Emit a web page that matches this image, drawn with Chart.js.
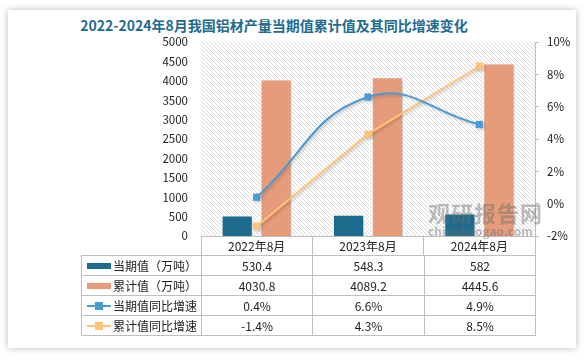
<!DOCTYPE html>
<html><head><meta charset="utf-8">
<script src="https://cdn.jsdelivr.net/npm/chart.js@4.4.1/dist/chart.umd.min.js"></script>
<style>
html,body{margin:0;padding:0;background:#fff;}
#wrap{position:relative;width:586px;height:360px;overflow:hidden;font-family:"Noto Sans CJK SC","Noto Sans",sans-serif;}
#card{position:absolute;left:8px;top:10px;width:568px;height:338px;background:#fff;box-shadow:0 0 7px rgba(0,0,0,0.28);}
#title{position:absolute;left:0;top:15px;width:548px;text-align:center;font-size:14px;font-weight:700;color:#236B8E;line-height:20px;white-space:nowrap;}
canvas{position:absolute;left:0;top:0;}
.cell{position:absolute;box-sizing:border-box;border:1px solid #BFBFBF;font-size:12px;color:#222;text-align:center;line-height:19px;white-space:nowrap;}
.lg{text-align:left;padding-left:31px;}
#wm{position:absolute;left:428px;top:199px;color:rgba(110,110,110,0.45);font-weight:700;font-size:22px;line-height:26px;letter-spacing:1px;white-space:nowrap;pointer-events:none;}
#wm2{position:absolute;left:428px;top:224px;color:rgba(110,110,110,0.45);font-weight:700;font-size:12px;line-height:14px;white-space:nowrap;pointer-events:none;}
</style></head>
<body>
<div id="wrap">
  <div id="card"></div>
  <div id="title">2022-2024年8月我国铝材产量当期值累计值及其同比增速变化</div>
  <canvas id="c" width="586" height="360"></canvas>
  <div id="tbl"></div>
  <div id="wm">观研报告网</div>
  <div id="wm2">chinabaogao.com</div>
</div>
<script>
const categories = ['2022年8月', '2023年8月', '2024年8月'];
const currentValues = [530.4, 548.3, 582];
const cumulativeValues = [4030.8, 4089.2, 4445.6];
const currentYoY = [0.4, 6.6, 4.9];
const cumulativeYoY = [-1.4, 4.3, 8.5];
const seriesNames = ['当期值（万吨）', '累计值（万吨）', '当期值同比增速', '累计值同比增速'];
const leftTicks = [0, 500, 1000, 1500, 2000, 2500, 3000, 3500, 4000, 4500, 5000];
const rightTicks = [-2, 0, 2, 4, 6, 8, 10];

const C_DARK = '#1F6B8D', C_SALMON = '#E69B7B', C_BLUE = '#4A9AD4', C_ORANGE = '#FFC47A';
const FONT = '"Noto Sans CJK SC","Noto Sans",sans-serif';

const hatch = (() => {
  const p = document.createElement('canvas'); p.width = 4; p.height = 4;
  const g = p.getContext('2d');
  g.fillStyle = '#fff'; g.fillRect(0,0,4,4);
  g.strokeStyle = '#DADADA'; g.lineWidth = 1;
  g.beginPath(); g.moveTo(-1,-1); g.lineTo(5,5); g.moveTo(-1,3); g.lineTo(1,5); g.moveTo(3,-1); g.lineTo(5,1); g.stroke();
  return p;
})();

const bgPlugin = {
  id: 'bg',
  beforeDatasetsDraw(chart) {
    const {ctx, chartArea: a} = chart;
    ctx.save();
    ctx.fillStyle = ctx.createPattern(hatch, 'repeat');
    ctx.fillRect(a.left, a.top, a.right - a.left, a.bottom - a.top);
    ctx.restore();
  },
  beforeDatasetDraw(chart) {
    const ctx = chart.ctx;
    ctx.save();
    ctx.shadowColor = 'rgba(0,0,0,0.22)';
    ctx.shadowBlur = 3;
    ctx.shadowOffsetX = 1.5;
    ctx.shadowOffsetY = 1.5;
  },
  afterDatasetDraw(chart) { chart.ctx.restore(); }
};

const chart = new Chart(document.getElementById('c'), {
  type: 'bar',
  data: {
    labels: categories,
    datasets: [
      {type:'line', label: seriesNames[2], data: currentYoY, yAxisID:'y1', borderColor:C_BLUE, backgroundColor:C_BLUE, borderWidth:2, tension:0.45, pointStyle:'rect', pointRadius:5, pointBorderWidth:0, order:1},
      {type:'line', label: seriesNames[3], data: cumulativeYoY, yAxisID:'y1', borderColor:C_ORANGE, backgroundColor:C_ORANGE, borderWidth:2, tension:0, pointStyle:'rect', pointRadius:5, pointBorderWidth:0, order:2},
      {label: seriesNames[0], data: currentValues, yAxisID:'y', backgroundColor:C_DARK, borderColor:'#fff', borderWidth:1, categoryPercentage:0.7, barPercentage:0.8, order:3},
      {label: seriesNames[1], data: cumulativeValues, yAxisID:'y', backgroundColor:C_SALMON, borderColor:'#fff', borderWidth:1, categoryPercentage:0.7, barPercentage:0.8, order:4}
    ]
  },
  options: {
    responsive: false,
    devicePixelRatio: 1,
    animation: false,
    layout: {padding: {top: 42, left: 0, right: 0, bottom: 0}},
    plugins: {legend: {display: false}, tooltip: {enabled: false}},
    scales: {
      x: {
        offset: true,
        grid: {display: true, drawOnChartArea: false, drawTicks: true, tickLength: 19, color: '#BFBFBF', offset: true},
        border: {display: true, color: '#BFBFBF'},
        ticks: {padding: -16, color: '#222', font: {family: FONT, size: 12}, maxRotation: 0},
        afterFit(s) { s.height = 124; }
      },
      y: {
        position: 'left', min: 0, max: 5000,
        afterBuildTicks(s) { s.ticks = leftTicks.map(v => ({value: v})); },
        grid: {display: false, drawTicks: false},
        border: {display: false},
        ticks: {padding: 13, color: '#222', font: {family: FONT, size: 11.5}, callback: v => String(v)},
        afterFit(s) { s.width = 201; }
      },
      y1: {
        position: 'right', min: -2, max: 10,
        afterBuildTicks(s) { s.ticks = rightTicks.map(v => ({value: v})); },
        grid: {display: true, drawOnChartArea: false, drawTicks: true, tickLength: 4, color: '#BFBFBF'},
        border: {display: true, color: '#BFBFBF'},
        ticks: {padding: 8, color: '#222', font: {family: FONT, size: 11.5}, callback: v => v + '%'},
        afterFit(s) { s.width = 51; }
      }
    }
  },
  plugins: [bgPlugin]
});

// data table body
(function buildTable() {
  const xs = chart.scales.x;
  const n = categories.length;
  const cw = (xs.right - xs.left) / n;
  const bounds = [81];
  for (let i = 0; i <= n; i++) bounds.push(Math.round(xs.left + i * cw));
  const top0 = Math.round(xs.top) + 19, rh = 20;
  const rows = [
    {name: seriesNames[0], vals: currentValues.map(v => String(v)), sw: 'bar', color: C_DARK},
    {name: seriesNames[1], vals: cumulativeValues.map(v => String(v)), sw: 'bar', color: C_SALMON},
    {name: seriesNames[2], vals: currentYoY.map(v => v.toFixed(1) + '%'), sw: 'line', color: C_BLUE},
    {name: seriesNames[3], vals: cumulativeYoY.map(v => v.toFixed(1) + '%'), sw: 'line', color: C_ORANGE}
  ];
  const tbl = document.getElementById('tbl');
  rows.forEach((r, ri) => {
    const y = top0 + ri * rh;
    for (let ci = 0; ci <= n; ci++) {
      const d = document.createElement('div');
      d.className = 'cell' + (ci === 0 ? ' lg' : '');
      d.style.left = bounds[ci] + 'px';
      d.style.top = y + 'px';
      d.style.width = (bounds[ci + 1] - bounds[ci] + 1) + 'px';
      d.style.height = (rh + 1) + 'px';
      if (ci === 0) {
        const sw = document.createElement('div');
        if (r.sw === 'bar') {
          sw.style.cssText = 'position:absolute;left:5px;top:7px;width:24px;height:6px;background:' + r.color;
        } else {
          sw.style.cssText = 'position:absolute;left:5px;top:9px;width:24px;height:2px;background:' + r.color;
          const m = document.createElement('div');
          m.style.cssText = 'position:absolute;left:8px;top:-3px;width:8px;height:8px;background:' + r.color;
          sw.appendChild(m);
        }
        d.appendChild(sw);
        d.appendChild(document.createTextNode(r.name));
      } else {
        d.textContent = r.vals[ci - 1];
      }
      tbl.appendChild(d);
    }
  });
})();
</script>
</body></html>
